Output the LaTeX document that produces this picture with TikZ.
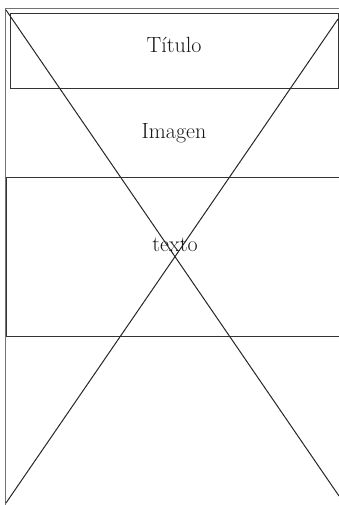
\documentclass[tikz,border=0pt]{standalone}
\usetikzlibrary{calc}
\begin{document}
\begin{tikzpicture}[x=1pt,y=-1pt,
  frame/.style={draw=black!55,line width=1pt},
  rule/.style={draw=black!80,line width=1pt},
  cross/.style={draw=black!85,line width=1pt},
  label/.style={font=\fontsize{22}{25}\selectfont,text=black!90,inner sep=0pt}]
\useasboundingbox (0,0) rectangle (339,505);
% outer frame
\draw[frame] (5.5,505) -- (5.5,8.5) -- (339,8.5);
% title box
\draw[rule] (339.5,14) -- (10,14) -- (10,89) -- (339.5,89);
\draw[rule] (338.5,14) -- (338.5,89);
% text box
\draw[rule] (339.5,177.5) -- (6,177.5) -- (6,336) -- (339.5,336);
% diagonals
\coordinate (tl) at (6,10);
\coordinate (br) at (339,496);
\coordinate (tr) at (338,19);
\coordinate (bl) at (6,503);
\draw[cross] (tl) -- (br);
\draw[cross] (tr) -- (bl);
% labels
\node[label] (titulo) at (174,45) {Título};
\node[label] (imagen) at (174,133) {Imagen};
\node[label] (texto) at (175,245) {texto};
\end{tikzpicture}
\end{document}
